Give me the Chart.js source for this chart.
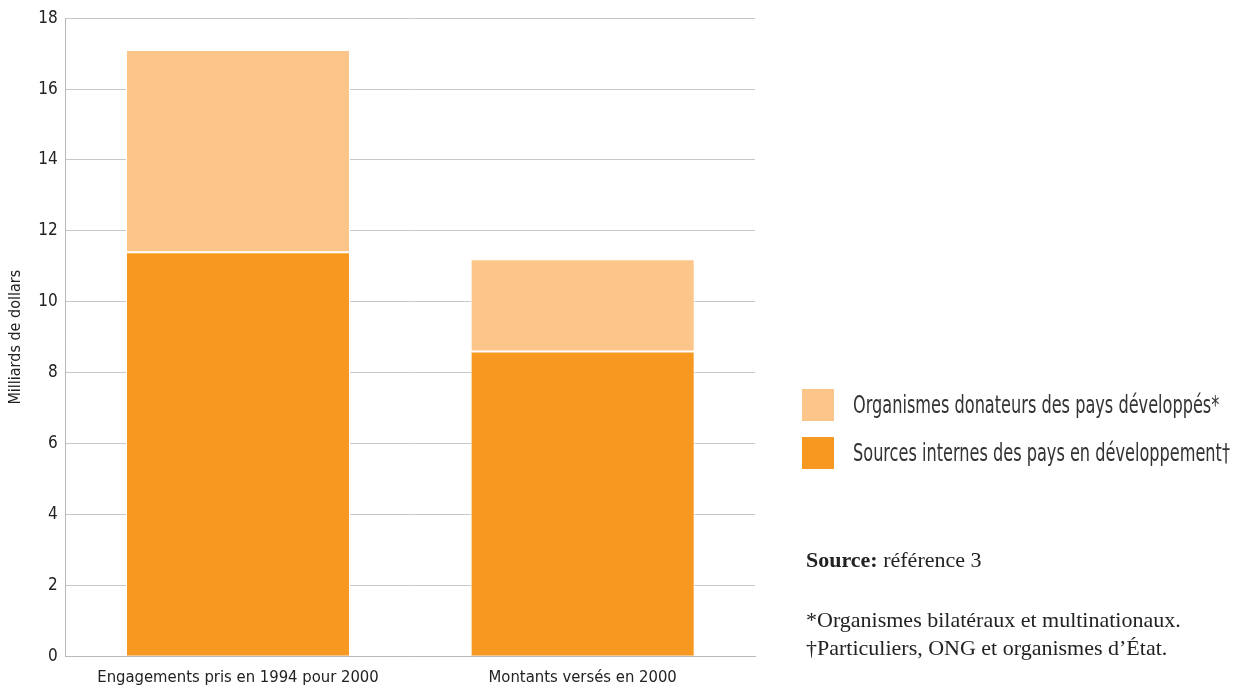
<!DOCTYPE html>
<html lang="fr">
<head>
<meta charset="utf-8">
<script src="https://cdn.jsdelivr.net/npm/chart.js@4/dist/chart.umd.min.js"></script>
<style>
  html, body { margin: 0; padding: 0; background: #fff; }
  #wrap { position: relative; width: 1243px; height: 689px; }
  #chart { position: absolute; left: 0; top: 0; }
  .legend { position: absolute; left: 802px; font-family: "Liberation Sans Narrow", "DejaVu Sans Condensed", sans-serif; font-size: 24px; color: #333; }
  .legend .item { display: flex; align-items: center; height: 32px; margin-bottom: 16px; white-space: nowrap; }
  .legend .swatch { width: 32px; height: 32px; margin-right: 19px; flex: none; }
  .legend .text { display: inline-block; transform-origin: left center; }
  .notes { position: absolute; left: 806px; font-family: "Liberation Serif", "DejaVu Serif", serif; font-size: 22px; color: #222; line-height: 28px; white-space: nowrap; }
</style>
</head>
<body>
<div id="wrap">
  <canvas id="chart" width="1243" height="689"></canvas>
  <div class="legend" id="legend" style="top: 389px;"></div>
  <div class="notes" style="top: 546px;">
    <div><b>Source:</b> référence 3</div>
    <div style="margin-top: 32px;">*Organismes bilatéraux et multinationaux.</div>
    <div>†Particuliers, ONG et organismes d’État.</div>
  </div>
</div>
<script>
// Données : milliards de dollars
const categories = ['Engagements pris en 1994 pour 2000', 'Montants versés en 2000'];
const sourcesInternes = [11.4, 8.6];
const donateurs = [5.7, 2.6];
const yTicks = [0, 2, 4, 6, 8, 10, 12, 14, 16, 18];

const seriesNames = ['Organismes donateurs des pays développés*', 'Sources internes des pays en développement†'];
const colorLight = '#fcc68a';
const colorDark = '#f79821';

const condensed = '"Liberation Sans Narrow", "DejaVu Sans Condensed", sans-serif';

// Légende construite à la main, à droite du graphique
const legend = document.getElementById('legend');
legend.innerHTML = [
  { label: seriesNames[0], color: colorLight },
  { label: seriesNames[1], color: colorDark }
].map(s => `
  <div class="item"><span class="swatch" style="background:${s.color}"></span><span class="text">${s.label}</span></div>
`).join('');

// resserre le texte de la légende (pas de police étroite disponible)
const texts = legend.querySelectorAll('.text');
const widest = Math.max(...Array.from(texts).map(t => t.getBoundingClientRect().width));
const squeeze = Math.min(1, 377 / widest);
texts.forEach(t => { t.style.transform = `scaleX(${squeeze})`; });

const ctx = document.getElementById('chart').getContext('2d');
new Chart(ctx, {
  type: 'bar',
  data: {
    labels: categories,
    datasets: [
      {
        label: seriesNames[1],
        data: sourcesInternes,
        backgroundColor: colorDark,
        borderColor: '#ffffff',
        borderWidth: 1,
        borderSkipped: 'start'
      },
      {
        label: seriesNames[0],
        data: donateurs,
        backgroundColor: colorLight,
        borderColor: '#ffffff',
        borderWidth: 1,
        borderSkipped: false
      }
    ]
  },
  options: {
    responsive: false,
    animation: false,
    layout: { padding: { top: 4, right: 488, left: 6, bottom: -3 } },
    datasets: { bar: { categoryPercentage: 0.65, barPercentage: 1 } },
    plugins: {
      legend: { display: false },
      tooltip: { enabled: false }
    },
    scales: {
      x: {
        stacked: true,
        grid: { display: false },
        border: { color: '#b8b8b8', width: 1 },
        ticks: { color: '#222', font: { family: condensed, size: 16.5 }, padding: 4 }
      },
      y: {
        stacked: true,
        min: 0,
        max: 18,
        afterBuildTicks: axis => { axis.ticks = yTicks.map(v => ({ value: v })); },
        grid: { color: '#c8c8c8', lineWidth: 1, drawTicks: false },
        border: { color: '#b8b8b8', width: 1 },
        ticks: { color: '#222', font: { family: condensed, size: 17 }, padding: 8 },
        title: {
          display: true,
          text: 'Milliards de dollars',
          color: '#222',
          font: { family: condensed, size: 16 },
          padding: { top: 0, bottom: 5 }
        }
      }
    }
  }
});
</script>
</body>
</html>
